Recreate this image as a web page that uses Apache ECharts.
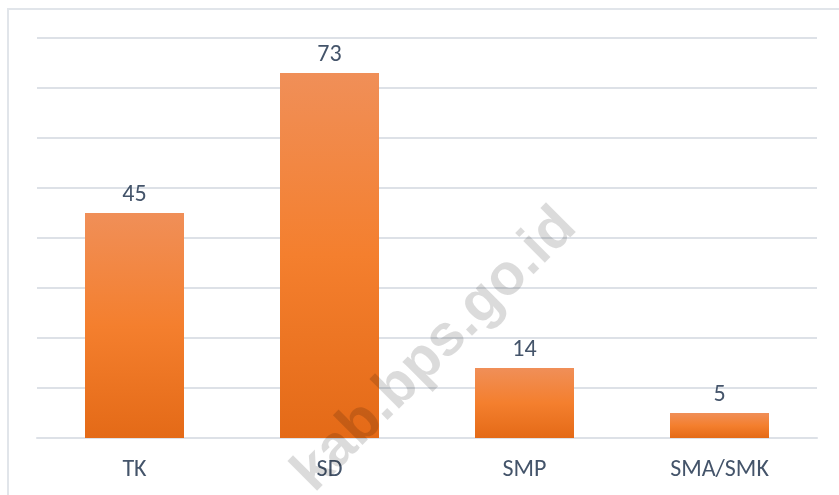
<!DOCTYPE html>
<html>
<head>
<meta charset="utf-8">
<script src="https://cdn.jsdelivr.net/npm/echarts@6/dist/echarts.min.js"></script>
<style>
  html, body { margin: 0; padding: 0; background: #ffffff; }
  #chart { width: 839px; height: 495px; }
</style>
</head>
<body>
<div id="chart"></div>
<script>
const categories = ['TK', 'SD', 'SMP', 'SMA/SMK'];
const values = [45, 73, 14, 5];
const watermarkText = 'kab.bps.go.id';

const chart = echarts.init(document.getElementById('chart'), null, { renderer: 'canvas' });
const textColor = '#44546A';
const fontFam = 'Carlito, "Open Sans", "Liberation Sans", sans-serif';

chart.setOption({
  animation: false,
  backgroundColor: '#ffffff',
  grid: { left: 37, right: 22, top: 38, bottom: 57 },
  xAxis: {
    type: 'category',
    data: categories,
    axisLine: { show: true, lineStyle: { color: '#DDE1E7', width: 2 } },
    axisTick: { show: false },
    axisLabel: { color: textColor, fontSize: 24, fontFamily: fontFam, margin: 20 }
  },
  yAxis: {
    type: 'value',
    min: 0, max: 80, interval: 10,
    axisLine: { show: false },
    axisTick: { show: false },
    axisLabel: { show: false },
    splitLine: { lineStyle: { color: '#DDE1E7', width: 2 } }
  },
  series: [{
    type: 'bar',
    data: values,
    barWidth: 99,
    itemStyle: {
      color: new echarts.graphic.LinearGradient(0, 0, 0, 1, [
        { offset: 0, color: '#F08F58' },
        { offset: 0.5, color: '#F47F2E' },
        { offset: 1, color: '#E46A17' }
      ])
    },
    label: {
      show: true, position: 'top', distance: 6,
      color: textColor, fontSize: 24, fontFamily: fontFam
    }
  }],
  graphic: [
    {
      type: 'rect', silent: true, z: 0,
      shape: { x: 8, y: 9, width: 860, height: 520 },
      style: { fill: 'none', stroke: '#E1E5EA', lineWidth: 2 }
    },
    {
      type: 'text', silent: true, z: 100,
      x: 435, y: 350, rotation: Math.PI / 4,
      style: {
        text: watermarkText,
        fill: 'rgba(0,0,0,0.14)',
        font: 'bold 58px "Liberation Sans", Arial, sans-serif',
        textAlign: 'center', textVerticalAlign: 'middle'
      }
    }
  ]
});
</script>
</body>
</html>
